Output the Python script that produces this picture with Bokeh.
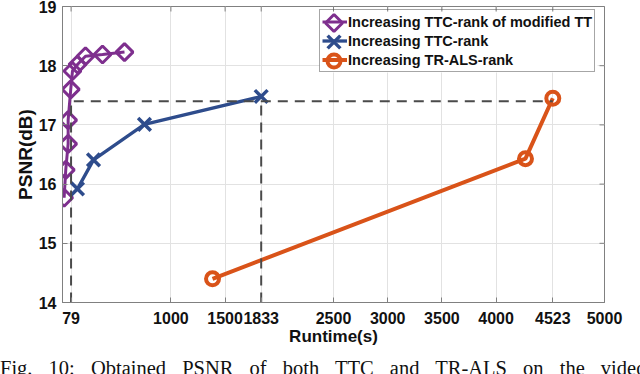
from math import pi
from bokeh.plotting import figure
from bokeh.models import Range1d, FixedTicker, Legend, LegendItem, Div
from bokeh.layouts import column
from bokeh.embed import file_html
from bokeh.resources import INLINE

# ---- data ----
mod_tt_runtime = [15, 30, 52, 52, 76, 92, 138, 212, 369, 572]
mod_tt_psnr = [15.77, 16.24, 16.68, 17.08, 17.60, 17.91, 18.02, 18.16, 18.19, 18.23]
ttc_runtime = [138, 286, 756, 1833]
ttc_psnr = [15.92, 16.41, 17.01, 17.48]
tr_runtime = [1384, 4271, 4523]
tr_psnr = [14.40, 16.43, 17.45]
ref_runtime = [79, 1833, 4523]
ref_psnr = 17.40
x_ticks = [79, 1000, 1500, 1833, 2500, 3000, 3500, 4000, 4523, 5000]
y_ticks = [14, 15, 16, 17, 18, 19]
x_min, x_max = 0, 5000
y_min, y_max = 14, 19
labels = ["Increasing TTC-rank of modified TT", "Increasing TTC-rank", "Increasing TR-ALS-rank"]
caption = "Fig. 10: Obtained PSNR of both TTC and TR-ALS on the video"

PURPLE = "#7E2F8E"
BLUE = "#2E4C8C"
ORANGE = "#D95319"
AXC = "#808080"
FONT = "Liberation Sans"

# ---- layout (pixels) ----
W, H = 640, 352
FL, FR, FT, FB = 62, 604, 6, 302          # frame edges in canvas pixels
LEG_LEFT, LEG_RIGHT, LEG_TOP, LEG_PAD, LEG_GW, LEG_ROW = 319, 597, 11, 2, 25, 19


def px_to_x(px):
    return x_min + (px - FL) / (FR - FL) * (x_max - x_min)


def py_to_y(py):
    return y_min + (FB - py) / (FB - FT) * (y_max - y_min)


p = figure(width=W, height=H, output_backend="svg", toolbar_location=None,
           x_range=Range1d(x_min, x_max), y_range=Range1d(y_min, y_max),
           min_border_left=FL, min_border_right=W - FR, min_border_top=FT,
           min_border_bottom=H - FB, x_axis_label="Runtime(s)", y_axis_label="PSNR(dB)")
p.background_fill_color = "white"
p.border_fill_color = "white"
p.outline_line_color = AXC

xt = FixedTicker(ticks=x_ticks)
yt = FixedTicker(ticks=y_ticks)

for ax, tk in ((p.xaxis[0], xt), (p.yaxis[0], yt)):
    ax.ticker = tk
    ax.axis_line_color = AXC
    ax.major_tick_line_color = AXC
    ax.major_tick_in = 5
    ax.major_tick_out = 0
    ax.minor_tick_line_color = None
    ax.major_label_text_font = FONT
    ax.major_label_text_font_style = "bold"
    ax.major_label_text_font_size = "16px"
    ax.major_label_text_color = "#111111"
    ax.axis_label_text_font = FONT
    ax.axis_label_text_font_style = "bold"
    ax.axis_label_text_color = "#111111"

p.xaxis[0].major_label_standoff = 9
p.xaxis[0].axis_label_standoff = 0
p.xaxis[0].axis_label_text_font_size = "17px"
p.yaxis[0].major_label_standoff = 6
p.yaxis[0].axis_label_standoff = 0
p.yaxis[0].axis_label_text_font_size = "19px"

p.xgrid.ticker = xt
p.ygrid.ticker = yt
p.grid.grid_line_color = "#e2e2e2"
p.grid.grid_line_width = 1

n_items = len(labels)
leg_h = 2 * LEG_PAD + n_items * LEG_ROW

# white panel behind the (transparent) legend so the grid does not show through
p.quad(left=[px_to_x(LEG_LEFT)], right=[px_to_x(LEG_RIGHT)],
       top=[py_to_y(LEG_TOP)], bottom=[py_to_y(LEG_TOP + leg_h)],
       fill_color="white", line_color=None)

# inward tick marks on the top and right box edges (half of each dash is clipped by the frame)
p.scatter(x_ticks, [y_max] * len(x_ticks), marker="dash", angle=pi / 2, size=10,
          line_color=AXC, line_width=1)
p.scatter([x_max] * len(y_ticks), y_ticks, marker="dash", size=10,
          line_color=AXC, line_width=1)

# series
mk1 = dict(marker="square", angle=pi / 4, size=12, line_color=PURPLE, line_width=3, fill_color=None)
mk2 = dict(marker="x", size=18, line_color=BLUE, line_width=3.5)
mk3 = dict(marker="circle", size=13, line_color=ORANGE, line_width=4, fill_color=None)

l1 = p.line(mod_tt_runtime, mod_tt_psnr, line_color=PURPLE, line_width=3)
p.scatter(mod_tt_runtime, mod_tt_psnr, **mk1)
l2 = p.line(ttc_runtime, ttc_psnr, line_color=BLUE, line_width=3.3)
p.scatter(ttc_runtime, ttc_psnr, **mk2)
l3 = p.line(tr_runtime, tr_psnr, line_color=ORANGE, line_width=4)
p.scatter(tr_runtime, tr_psnr, **mk3)

# dashed reference lines
p.line([ref_runtime[0], ref_runtime[0], ref_runtime[2]], [y_min, ref_psnr, ref_psnr],
       line_color="#4a4a4a", line_width=2, line_dash="10 7")
p.line([ref_runtime[1], ref_runtime[1]], [y_min, ref_psnr],
       line_color="#4a4a4a", line_width=2, line_dash="10 7")

# full-size legend markers (drawn under the transparent legend's line samples)
gx = px_to_x(LEG_LEFT + LEG_PAD + LEG_GW / 2)
for i, mk in enumerate((mk1, mk2, mk3)):
    gy = py_to_y(LEG_TOP + LEG_PAD + LEG_ROW * (i + 0.5))
    p.scatter([gx], [gy], **mk)

legend = Legend(items=[LegendItem(label=labels[0], renderers=[l1]),
                       LegendItem(label=labels[1], renderers=[l2]),
                       LegendItem(label=labels[2], renderers=[l3])],
                location=(LEG_LEFT - FL, FB - (LEG_TOP + leg_h)))
legend.margin = 0
legend.padding = LEG_PAD
legend.spacing = 0
legend.glyph_width = LEG_GW
legend.glyph_height = LEG_ROW
legend.label_height = LEG_ROW
legend.label_standoff = 1
legend.label_text_font = FONT
legend.label_text_font_style = "bold"
legend.label_text_font_size = "14.5px"
legend.label_text_color = "#111111"
legend.border_line_color = "#4d4d4d"
legend.border_line_width = 1
legend.background_fill_alpha = 0
p.add_layout(legend)

cap = Div(text=caption, width=W, height=22, margin=(0, 0, 0, 0),
          styles={"font-family": "Liberation Serif", "font-size": "20.5px",
                  "line-height": "32px", "word-spacing": "11px",
                  "overflow": "hidden", "white-space": "nowrap",
                  "color": "#111111"})

layout = column(p, cap, spacing=0)
open("out.html", "w").write(file_html(layout, INLINE))
